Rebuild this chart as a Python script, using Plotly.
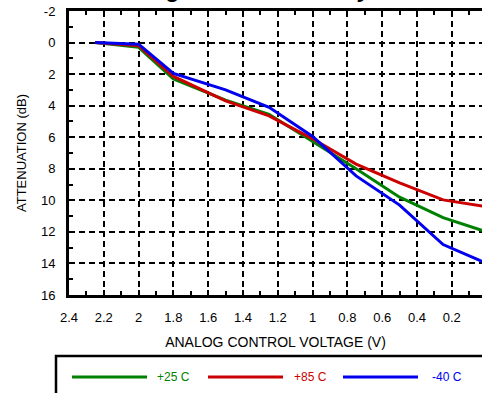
import plotly.graph_objects as go

# Analog control voltage (V) at each measured point
voltage = [2.25, 2.0, 1.8, 1.5, 1.25, 1.0, 0.75, 0.5, 0.25, 0.0]

# Attenuation (dB) per temperature
atten_25c = [0.0, 0.3, 2.3, 3.65, 4.55, 6.25, 8.0, 9.8, 11.1, 12.0]
atten_85c = [0.0, 0.2, 2.15, 3.7, 4.65, 6.1, 7.7, 8.9, 9.97, 10.4]
atten_m40c = [0.0, 0.1, 1.95, 3.0, 4.1, 5.95, 8.45, 10.3, 12.8, 14.0]

series_names = ["+25 C", "+85 C", "-40 C"]
series_colors = ["#008000", "#cc0000", "#0000ee"]

x_tickvals = [2.4, 2.2, 2.0, 1.8, 1.6, 1.4, 1.2, 1.0, 0.8, 0.6, 0.4, 0.2]
x_ticktext = ["2.4", "2.2", "2", "1.8", "1.6", "1.4", "1.2", "1", "0.8", "0.6", "0.4", "0.2"]
y_tickvals = [-2, 0, 2, 4, 6, 8, 10, 12, 14, 16]
y_ticktext = ["-2", "0", "2", "4", "6", "8", "10", "12", "14", "16"]

W, H = 482, 393
ML, MR, MT, MB = 69, 0, 11, 98
PW, PH = W - ML - MR, H - MT - MB
PX_PER_VOLT = 174.0

def px_x(p):
    return (p - ML) / PW

def px_y(p):
    return (H - MB - p) / PH

FONT = "Liberation Sans, Arial, sans-serif"

fig = go.Figure()
for name, ys, col in zip(series_names, [atten_25c, atten_85c, atten_m40c], series_colors):
    fig.add_trace(go.Scatter(
        x=voltage, y=ys, mode="lines", name=name,
        line=dict(color=col, width=3), showlegend=False,
    ))

fig.update_layout(
    width=W, height=H,
    margin=dict(l=ML, r=MR, t=MT, b=MB),
    paper_bgcolor="white", plot_bgcolor="white",
    font=dict(family=FONT, color="black", size=13),
    showlegend=False,
)

fig.update_xaxes(
    range=[2.4, 2.4 - PW / PX_PER_VOLT],
    tickvals=x_tickvals, ticktext=x_ticktext,
    showgrid=True, gridcolor="black", gridwidth=2, griddash="6px,4px",
    showline=True, linecolor="black", linewidth=3, mirror="ticks",
    ticks="inside", ticklen=5, tickwidth=2, tickcolor="black",
    minor=dict(dtick=0.1, tick0=0, ticks="inside", ticklen=4, tickwidth=1.5, tickcolor="black", showgrid=False),
    ticklabelstandoff=8,
    tickfont=dict(size=13),
    title=dict(text="ANALOG CONTROL VOLTAGE (V)", font=dict(size=14), standoff=14),
    zeroline=False,
)
fig.update_yaxes(
    range=[16, -2],
    tickvals=y_tickvals, ticktext=y_ticktext,
    showgrid=True, gridcolor="black", gridwidth=2, griddash="6px,4px",
    showline=True, linecolor="black", linewidth=3, mirror=False,
    ticks="inside", ticklen=5, tickwidth=2, tickcolor="black",
    minor=dict(dtick=1, tick0=0, ticks="inside", ticklen=4, tickwidth=1.5, tickcolor="black", showgrid=False),
    ticklabelstandoff=8,
    tickfont=dict(size=13),
    title=dict(text="ATTENUATION (dB)", font=dict(size=13), standoff=12),
    zeroline=False,
)

# Chart title, largely above the top edge of the page
fig.add_annotation(
    text="<b><i>Analog Control Linearity</i></b>",
    xref="paper", yref="paper", x=px_x(237), y=px_y(4),
    xanchor="center", yanchor="bottom", showarrow=False,
    font=dict(size=23, family=FONT, color="black"),
)

# Legend box with line samples
fig.add_shape(type="rect", xref="paper", yref="paper",
              x0=px_x(56), x1=px_x(500), y0=px_y(410), y1=px_y(356),
              line=dict(color="black", width=2.5), fillcolor="rgba(0,0,0,0)", layer="above")
legend_lines = [(72, 147, 155), (208, 283, 292), (343, 418, 430)]
for (x0, x1, tx), name, col in zip(legend_lines, series_names, series_colors):
    fig.add_shape(type="line", xref="paper", yref="paper",
                  x0=px_x(x0), x1=px_x(x1), y0=px_y(377), y1=px_y(377),
                  line=dict(color=col, width=3), layer="above")
    fig.add_annotation(text=name, xref="paper", yref="paper",
                       x=px_x(tx), y=px_y(377), xanchor="left", yanchor="middle",
                       showarrow=False, font=dict(size=12, color=col, family=FONT))

fig.write_html("out.html")
